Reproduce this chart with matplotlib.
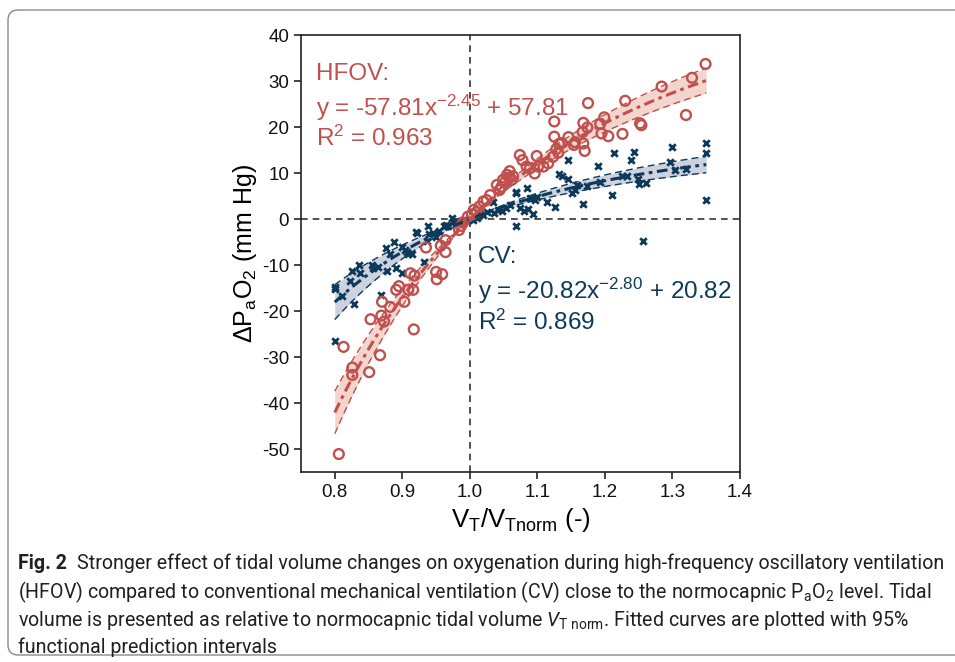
import numpy as np
import matplotlib
matplotlib.use("Agg")
import matplotlib.pyplot as plt
from matplotlib.patches import FancyBboxPatch
from matplotlib.transforms import IdentityTransform

# HFOV measurements (V_T / V_Tnorm, delta PaO2)
hfov_x = [0.806, 0.813, 0.826, 0.826, 0.851, 0.867, 0.853, 0.869, 0.873, 0.870,
          0.882, 0.891, 0.895, 0.903, 0.909, 0.916, 0.912, 0.918, 0.917, 0.935,
          0.950, 0.959, 0.951, 0.957, 0.964, 0.964, 0.984, 0.987, 0.990, 0.997,
          1.003, 1.006, 1.010, 1.014, 1.020, 1.025, 1.030, 1.040, 1.044, 1.047,
          1.049, 1.052, 1.055, 1.058, 1.059, 1.062, 1.064, 1.074, 1.078, 1.084,
          1.089, 1.096, 1.099, 1.101, 1.109, 1.116, 1.123, 1.125, 1.125, 1.128,
          1.131, 1.132, 1.136, 1.146, 1.154, 1.156, 1.168, 1.170, 1.168, 1.167,
          1.174, 1.175, 1.193, 1.199, 1.195, 1.205, 1.226, 1.230, 1.252, 1.254,
          1.284, 1.320, 1.329, 1.349]
hfov_y = [-51.1, -27.8, -32.3, -33.9, -33.3, -29.6, -21.8, -21.0, -22.3, -18.0,
          -19.1, -15.4, -14.6, -18.0, -15.4, -15.4, -11.8, -12.3, -24.0, -6.2,
          -11.5, -12.0, -13.1, -5.8, -4.6, -7.2, -2.4, -1.5, -0.8, 0.5,
          1.0, 2.0, 1.5, 2.7, 3.8, 4.1, 5.2, 7.4, 6.3, 7.0,
          8.5, 8.0, 9.6, 9.0, 10.4, 8.5, 9.3, 13.9, 12.8, 11.4,
          11.0, 9.9, 13.7, 11.4, 11.4, 12.1, 13.5, 21.2, 17.9, 15.2,
          14.4, 16.3, 16.5, 17.8, 16.1, 16.7, 16.4, 14.8, 20.9, 18.9,
          19.9, 25.2, 20.7, 22.1, 18.6, 18.0, 18.5, 25.7, 20.8, 20.4,
          28.8, 22.6, 30.7, 33.7]

# CV measurements
cv_x = [0.800, 0.800, 0.800, 0.810, 0.823, 0.825, 0.828, 0.836, 0.838, 0.855,
        0.857, 0.864, 0.868, 0.876, 0.878, 0.882, 0.888, 0.891, 0.899, 0.900,
        0.904, 0.907, 0.909, 0.914, 0.920, 0.922, 0.932, 0.936, 0.938, 0.940,
        0.946, 0.950, 0.955, 0.961, 0.965, 0.968, 0.973, 0.975, 0.980, 0.985,
        0.990, 1.000, 1.005, 1.010, 1.015, 1.020, 1.025, 1.034, 1.036, 1.042,
        1.047, 1.054, 1.059, 1.068, 1.069, 1.069, 1.074, 1.080, 1.085, 1.086,
        1.089, 1.094, 1.096, 1.099, 1.114, 1.126, 1.132, 1.137, 1.146, 1.146,
        1.151, 1.156, 1.158, 1.167, 1.173, 1.190, 1.193, 1.211, 1.213, 1.225,
        1.232, 1.239, 1.243, 1.249, 1.251, 1.257, 1.261, 1.296, 1.299, 1.304,
        1.320, 1.350, 1.350, 1.350]
cv_y = [-14.7, -15.2, -26.5, -16.8, -13.4, -11.3, -18.5, -9.9, -11.8, -9.9,
        -10.6, -10.4, -16.5, -6.2, -11.4, -7.7, -4.9, -10.7, -11.8, -6.0,
        -6.7, -7.1, -7.7, -7.7, -2.8, -3.1, -9.4, -4.7, -1.6, -3.2,
        -3.1, -4.0, -2.5, -1.6, -1.3, -1.6, 0.3, -0.6, -0.5, -0.8,
        -0.3, 0.0, -0.2, 0.3, 1.1, 0.9, 1.6, 3.8, 1.2, 2.0,
        1.8, 2.3, 3.0, 5.9, 5.6, -1.5, 2.3, 1.8, 6.7, 2.1,
        4.5, 1.1, 4.1, 4.8, 3.8, 2.7, 9.8, 9.3, 8.8, 12.8,
        5.6, 6.3, 7.4, 3.2, 7.2, 11.6, 8.0, 5.2, 14.3, 9.3,
        9.3, 12.8, 14.6, 8.8, 7.7, -4.8, 7.9, 12.5, 15.6, 10.7,
        10.8, 16.6, 14.3, 4.1]

# fitted models y = -a*x^b + a, and relative width of the 95% band (below / above x=1)
hfov_a, hfov_b = 57.81, -2.45
cv_a, cv_b = 20.82, -2.80
hfov_band = (0.11, 0.09)
cv_band = (0.21, 0.15)

red = "#C0504D"
blue = "#0D3A5A"
red_fill = "#F3D5CD"
blue_fill = "#CDD2DE"

cap_font = "Roboto"

plt.rcParams["font.family"] = ["Liberation Sans", "DejaVu Sans"]
plt.rcParams["axes.unicode_minus"] = False
plt.rcParams["mathtext.fontset"] = "custom"
plt.rcParams["mathtext.rm"] = cap_font
plt.rcParams["mathtext.it"] = cap_font + ":italic"

W, H = 955, 662
fig = plt.figure(figsize=(W / 100, H / 100), dpi=100)
ax = fig.add_axes([301 / W, 1 - 472 / H, (740 - 301) / W, (472 - 35) / H])

xs = np.linspace(0.8, 1.35, 200)


def fit_and_band(a, b, band):
    y = -a * xs ** b + a
    k = np.where(xs < 1, band[0], band[1])
    return y, y * (1 - k), y * (1 + k)


for a, b, band, col, fill in [(hfov_a, hfov_b, hfov_band, red, red_fill),
                              (cv_a, cv_b, cv_band, blue, blue_fill)]:
    y, lo, hi = fit_and_band(a, b, band)
    ax.fill_between(xs, lo, hi, color=fill, lw=0, zorder=1)
    ax.plot(xs, lo, color=col, lw=1.0, ls=(0, (5, 3)), zorder=2)
    ax.plot(xs, hi, color=col, lw=1.0, ls=(0, (5, 3)), zorder=2)

ax.axhline(0, color="#333333", lw=1.2, ls=(0, (4, 3)), zorder=1.5)
ax.axvline(1.0, color="#333333", lw=1.2, ls=(0, (4, 3)), zorder=1.5)

ax.scatter(cv_x, cv_y, marker="x", s=22, color=blue, linewidths=2.0, zorder=3)
ax.scatter(hfov_x, hfov_y, marker="o", s=50, facecolors="none",
           edgecolors=red, linewidths=1.7, zorder=3)

for a, b, band, col in [(cv_a, cv_b, cv_band, blue), (hfov_a, hfov_b, hfov_band, red)]:
    y, lo, hi = fit_and_band(a, b, band)
    ax.plot(xs, y, color=col, lw=2.2, ls=(0, (3.5, 1.5, 1.2, 1.5)), zorder=4)

ax.set_xlim(0.75, 1.4)
ax.set_ylim(-55, 40)
ax.set_xticks([0.8, 0.9, 1.0, 1.1, 1.2, 1.3, 1.4])
ax.set_xticklabels(["0.8", "0.9", "1.0", "1.1", "1.2", "1.3", "1.4"])
ax.set_yticks(range(-50, 41, 10))
ax.tick_params(direction="out", length=5, width=1.1, labelsize=13.5, colors="#111111")
for sp in ax.spines.values():
    sp.set_linewidth(1.2)
    sp.set_color("#222222")

sub = "\\mathregular"
ax.set_xlabel("V$_{%s{T}}$/V$_{%s{Tnorm}}$ (-)" % (sub, sub), fontsize=18.5, labelpad=4)
ax.set_ylabel("ΔP$_{%s{a}}$O$_{%s{2}}$ (mm Hg)" % (sub, sub), fontsize=18, labelpad=2)

ann = dict(fontsize=17.5, va="baseline", ha="left")
ax.text(0.772, 30.2, "HFOV:", color=red, **ann)
ax.text(0.772, 22.4, "y = -57.81x$^{%s{-2.45}}$ + 57.81" % sub, color=red, **ann)
ax.text(0.772, 15.9, "R$^{%s{2}}$ = 0.963" % sub, color=red, **ann)
ax.text(1.012, -9.6, "CV:", color=blue, **ann)
ax.text(1.012, -17.3, "y = -20.82x$^{%s{-2.80}}$ + 20.82" % sub, color=blue, **ann)
ax.text(1.012, -24.1, "R$^{%s{2}}$ = 0.869" % sub, color=blue, **ann)

# rounded frame round the figure
fig.add_artist(FancyBboxPatch((8, 7), 980, 645, boxstyle="round,pad=0,rounding_size=10",
                              transform=IdentityTransform(), fill=False,
                              edgecolor="#8a8a8a", lw=1.0))

# caption
lines = [
    "Stronger effect of tidal volume changes on oxygenation during high-frequency oscillatory ventilation",
    "(HFOV) compared to conventional mechanical ventilation (CV) close to the normocapnic "
    "P$_{%s{a}}$O$_{%s{2}}$ level. Tidal" % (sub, sub),
    "volume is presented as relative to normocapnic tidal volume "
    "$\\mathit{V}_{%s{T\\ norm}}$. Fitted curves are plotted with 95%%" % sub,
    "functional prediction intervals",
]
baselines = [569, 598, 626, 653]
cap_color = "#231f20"
size = 13.0
renderer = fig.canvas.get_renderer()
t_bold = fig.text(18 / W, 1 - baselines[0] / H, "Fig. 2", fontsize=size, family=cap_font,
                  weight="bold", va="baseline", color=cap_color)
t_first = fig.text(0, 1 - baselines[0] / H, lines[0], fontsize=size, family=cap_font,
                   va="baseline", color=cap_color)
wb = t_bold.get_window_extent(renderer).width
wf = t_first.get_window_extent(renderer).width
size = size * (944 - 18) / (wb + wf + 0.5 * size * 1.389)
t_bold.set_fontsize(size)
t_first.set_fontsize(size)
wb = t_bold.get_window_extent(renderer).width
t_first.set_x((18 + wb + 0.5 * size * 1.389) / W)
for txt, yb in zip(lines[1:], baselines[1:]):
    fig.text(18 / W, 1 - yb / H, txt, fontsize=size, family=cap_font,
             va="baseline", color=cap_color)

fig.savefig("out.png", dpi=100)
